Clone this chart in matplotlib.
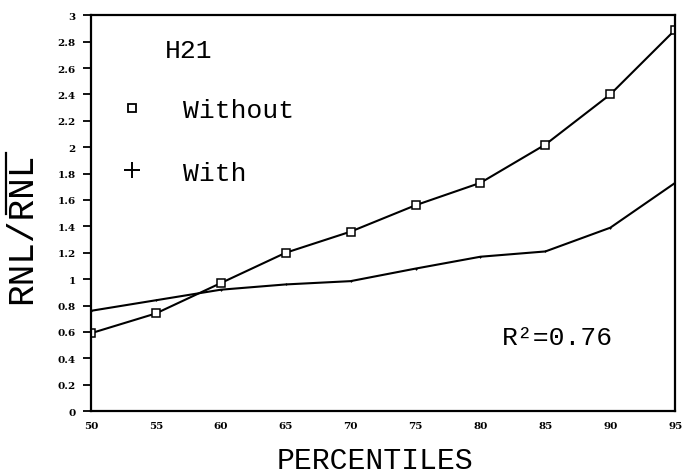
import matplotlib
matplotlib.use("Agg")
import matplotlib.pyplot as plt
from matplotlib.lines import Line2D

percentiles = [50, 55, 60, 65, 70, 75, 80, 85, 90, 95]
without = [0.59, 0.74, 0.97, 1.20, 1.36, 1.56, 1.73, 2.02, 2.40, 2.89]
with_ = [0.76, 0.84, 0.92, 0.96, 0.985, 1.08, 1.17, 1.21, 1.39, 1.73]
yticks = [0, 0.2, 0.4, 0.6, 0.8, 1, 1.2, 1.4, 1.6, 1.8, 2, 2.2, 2.4, 2.6, 2.8, 3]
ytick_labels = ["0", "0.2", "0.4", "0.6", "0.8", "1", "1.2", "1.4", "1.6", "1.8",
                "2", "2.2", "2.4", "2.6", "2.8", "3"]
xticks = [50, 55, 60, 65, 70, 75, 80, 85, 90, 95]

mono = "Liberation Mono"

W, H = 699, 477
fig = plt.figure(figsize=(6.99, 4.77), dpi=100)
ax = fig.add_axes([0.130, 0.136, 0.836, 0.830])

ax.plot(percentiles, without, color="black", lw=1.5, marker="s", ms=5.5,
        mfc="white", mec="black", mew=1.1)
ax.plot(percentiles, with_, color="black", lw=1.5, marker="+", ms=2, mew=0.8)

ax.set_xlim(50, 95)
ax.set_ylim(0, 3)
ax.set_yticks(yticks)
ax.set_yticklabels(ytick_labels)
ax.set_xticks(xticks)
ax.set_xticklabels([str(x) for x in xticks])
for lab in ax.get_xticklabels() + ax.get_yticklabels():
    lab.set_fontfamily("DejaVu Serif")
    lab.set_fontweight("bold")
    lab.set_fontsize(7.5)
ax.tick_params(axis="y", direction="out", length=6, width=1.3, pad=5)
ax.tick_params(axis="x", length=0, pad=7)
for s in ax.spines.values():
    s.set_linewidth(1.6)

fig.text(375 / W, 1 - 461 / H, "PERCENTILES", fontfamily=mono, fontsize=21.5,
         ha="center", va="center")
ylab = fig.text(22 / W, 1 - 228 / H, "RNL/RNL", fontfamily=mono,
                fontsize=26, rotation=90, ha="center", va="center")

# overline over the second "RNL" (the upper part of the rotated label)
fig.canvas.draw()
bb = ylab.get_window_extent(fig.canvas.get_renderer())
frac = 3 / 7
xo = bb.x0 + 2
fig.add_artist(Line2D([xo / W, xo / W], [(bb.y1 - frac * bb.height + 2) / H, (bb.y1 - 2) / H],
                      transform=fig.transFigure, color="black", lw=1.6))

ax.text(0.127, 0.912, "H21", transform=ax.transAxes, fontfamily=mono,
        fontsize=19, ha="left", va="center")

handles = [Line2D([], [], ls="none", marker="s", ms=5.5, mfc="white", mec="black", mew=1.3),
           Line2D([], [], ls="none", marker="+", ms=11, mec="black", mew=1.4)]
ax.legend(handles, ["Without", "With"], loc="upper left",
          bbox_to_anchor=(0.026, 0.79), frameon=False,
          prop={"family": mono, "size": 19}, handletextpad=0.9,
          labelspacing=1.45, borderaxespad=0, borderpad=0)

ax.text(0.798, 0.187, "R²=0.76", transform=ax.transAxes,
        fontfamily=mono, fontsize=19, ha="center", va="center")

fig.savefig("out.png", dpi=100)
